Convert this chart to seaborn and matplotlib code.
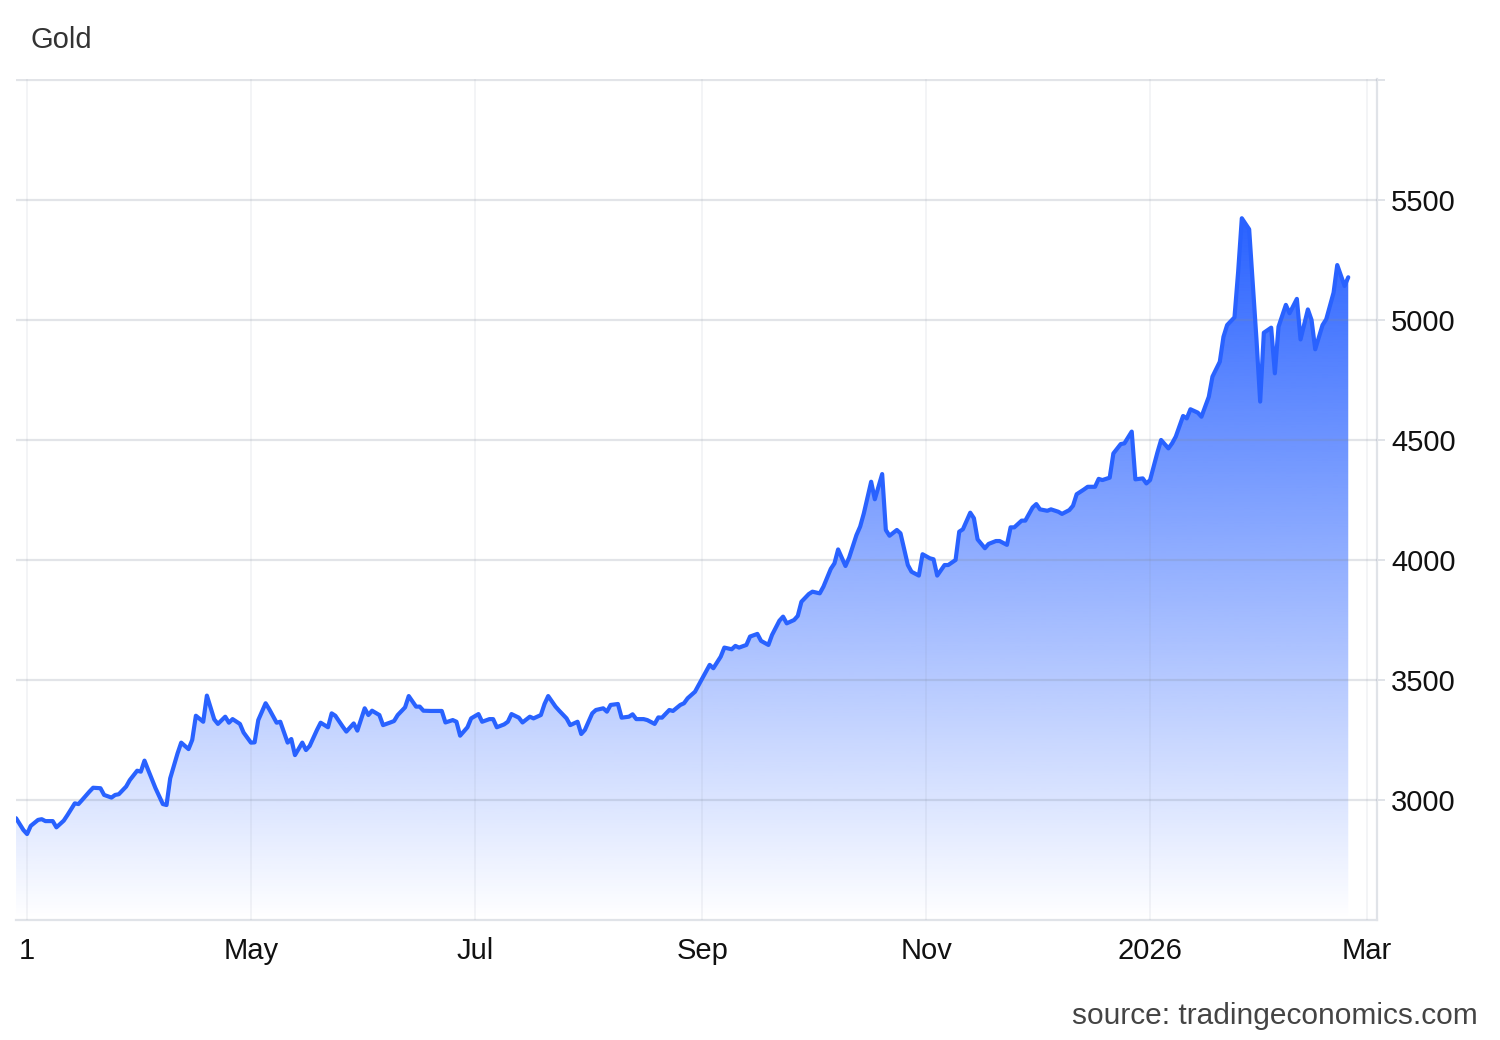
import numpy as np
import pandas as pd
import seaborn as sns
import matplotlib.pyplot as plt
import matplotlib.dates as mdates
from matplotlib.colors import to_rgb
from matplotlib.patches import Polygon

sns.set_theme(style='white')
plt.rcParams['font.family'] = ['Liberation Sans', 'DejaVu Sans']

# gold price
dates = [
    '2025-02-26', '2025-02-28', '2025-03-01', '2025-03-02', '2025-03-04',
    '2025-03-05', '2025-03-06', '2025-03-08', '2025-03-09', '2025-03-11',
    '2025-03-12', '2025-03-14', '2025-03-15', '2025-03-16', '2025-03-18',
    '2025-03-19', '2025-03-21', '2025-03-22', '2025-03-24', '2025-03-25',
    '2025-03-26', '2025-03-28', '2025-03-29', '2025-03-31', '2025-04-01',
    '2025-04-02', '2025-04-03', '2025-04-05', '2025-04-07', '2025-04-08',
    '2025-04-09', '2025-04-11', '2025-04-12', '2025-04-14', '2025-04-15',
    '2025-04-16', '2025-04-18', '2025-04-19', '2025-04-21', '2025-04-22',
    '2025-04-24', '2025-04-25', '2025-04-26', '2025-04-28', '2025-04-29',
    '2025-05-01', '2025-05-02', '2025-05-03', '2025-05-05', '2025-05-06',
    '2025-05-08', '2025-05-09', '2025-05-11', '2025-05-12', '2025-05-13',
    '2025-05-15', '2025-05-16', '2025-05-17', '2025-05-19', '2025-05-20',
    '2025-05-22', '2025-05-23', '2025-05-24', '2025-05-26', '2025-05-27',
    '2025-05-29', '2025-05-30', '2025-06-01', '2025-06-02', '2025-06-03',
    '2025-06-05', '2025-06-06', '2025-06-08', '2025-06-09', '2025-06-10',
    '2025-06-12', '2025-06-13', '2025-06-15', '2025-06-16', '2025-06-17',
    '2025-06-19', '2025-06-20', '2025-06-22', '2025-06-23', '2025-06-25',
    '2025-06-26', '2025-06-27', '2025-06-29', '2025-06-30', '2025-07-02',
    '2025-07-03', '2025-07-05', '2025-07-06', '2025-07-07', '2025-07-09',
    '2025-07-10', '2025-07-11', '2025-07-13', '2025-07-14', '2025-07-16',
    '2025-07-17', '2025-07-19', '2025-07-20', '2025-07-21', '2025-07-23',
    '2025-07-24', '2025-07-26', '2025-07-27', '2025-07-29', '2025-07-30',
    '2025-07-31', '2025-08-02', '2025-08-03', '2025-08-05', '2025-08-06',
    '2025-08-07', '2025-08-09', '2025-08-10', '2025-08-12', '2025-08-13',
    '2025-08-14', '2025-08-16', '2025-08-17', '2025-08-19', '2025-08-20',
    '2025-08-21', '2025-08-23', '2025-08-24', '2025-08-26', '2025-08-27',
    '2025-08-28', '2025-08-30', '2025-08-31', '2025-09-02', '2025-09-03',
    '2025-09-04', '2025-09-06', '2025-09-07', '2025-09-09', '2025-09-10',
    '2025-09-11', '2025-09-13', '2025-09-14', '2025-09-16', '2025-09-17',
    '2025-09-19', '2025-09-20', '2025-09-22', '2025-09-23', '2025-09-24',
    '2025-09-26', '2025-09-27', '2025-09-28', '2025-09-30', '2025-10-01',
    '2025-10-03', '2025-10-04', '2025-10-06', '2025-10-07', '2025-10-08',
    '2025-10-10', '2025-10-11', '2025-10-13', '2025-10-14', '2025-10-15',
    '2025-10-17', '2025-10-18', '2025-10-20', '2025-10-21', '2025-10-22',
    '2025-10-24', '2025-10-25', '2025-10-27', '2025-10-28', '2025-10-30',
    '2025-10-31', '2025-11-02', '2025-11-03', '2025-11-04', '2025-11-06',
    '2025-11-07', '2025-11-09', '2025-11-10', '2025-11-11', '2025-11-13',
    '2025-11-14', '2025-11-15', '2025-11-17', '2025-11-18', '2025-11-20',
    '2025-11-21', '2025-11-23', '2025-11-24', '2025-11-25', '2025-11-27',
    '2025-11-28', '2025-11-30', '2025-12-01', '2025-12-02', '2025-12-04',
    '2025-12-05', '2025-12-07', '2025-12-08', '2025-12-10', '2025-12-11',
    '2025-12-12', '2025-12-14', '2025-12-15', '2025-12-17', '2025-12-18',
    '2025-12-19', '2025-12-21', '2025-12-22', '2025-12-24', '2025-12-25',
    '2025-12-27', '2025-12-28', '2025-12-30', '2025-12-31', '2026-01-01',
    '2026-01-03', '2026-01-04', '2026-01-06', '2026-01-07', '2026-01-08',
    '2026-01-10', '2026-01-11', '2026-01-12', '2026-01-14', '2026-01-15',
    '2026-01-17', '2026-01-18', '2026-01-20', '2026-01-21', '2026-01-22',
    '2026-01-24', '2026-01-25', '2026-01-26', '2026-01-28', '2026-01-30',
    '2026-01-31', '2026-02-01', '2026-02-03', '2026-02-04', '2026-02-05',
    '2026-02-07', '2026-02-08', '2026-02-10', '2026-02-11', '2026-02-13',
    '2026-02-14', '2026-02-15', '2026-02-17', '2026-02-18', '2026-02-20',
    '2026-02-21', '2026-02-23', '2026-02-24',
]
prices = [
    2924, 2875, 2858, 2892, 2917, 2920, 2912, 2912, 2886, 2914,
    2937, 2986, 2983, 3000, 3035, 3051, 3049, 3021, 3010, 3021,
    3024, 3056, 3083, 3122, 3118, 3164, 3125, 3049, 2983, 2979,
    3090, 3194, 3239, 3212, 3250, 3351, 3326, 3435, 3336, 3317,
    3347, 3322, 3337, 3317, 3281, 3239, 3240, 3333, 3403, 3378,
    3322, 3326, 3239, 3254, 3187, 3239, 3208, 3225, 3292, 3322,
    3303, 3361, 3351, 3306, 3285, 3319, 3289, 3382, 3354, 3372,
    3354, 3312, 3323, 3329, 3354, 3386, 3433, 3389, 3389, 3372,
    3371, 3371, 3371, 3323, 3333, 3326, 3268, 3303, 3340, 3358,
    3326, 3337, 3337, 3303, 3315, 3326, 3358, 3343, 3323, 3347,
    3340, 3354, 3400, 3433, 3389, 3372, 3340, 3312, 3326, 3275,
    3292, 3361, 3375, 3382, 3368, 3396, 3400, 3343, 3347, 3357,
    3337, 3337, 3333, 3317, 3344, 3343, 3375, 3371, 3396, 3403,
    3424, 3451, 3479, 3535, 3563, 3549, 3597, 3635, 3628, 3642,
    3635, 3646, 3681, 3692, 3663, 3646, 3688, 3747, 3764, 3736,
    3750, 3767, 3826, 3858, 3868, 3861, 3889, 3963, 3986, 4044,
    3975, 4010, 4104, 4139, 4194, 4326, 4253, 4358, 4125, 4101,
    4125, 4111, 3979, 3951, 3935, 4024, 4007, 4003, 3935, 3979,
    3979, 4000, 4118, 4128, 4197, 4174, 4086, 4049, 4067, 4079,
    4079, 4063, 4136, 4136, 4164, 4164, 4219, 4233, 4211, 4205,
    4211, 4201, 4192, 4208, 4226, 4274, 4294, 4305, 4305, 4338,
    4333, 4343, 4444, 4483, 4486, 4535, 4336, 4340, 4319, 4333,
    4448, 4500, 4465, 4486, 4514, 4600, 4590, 4628, 4614, 4597,
    4680, 4764, 4826, 4930, 4979, 5011, 5201, 5424, 5378, 4917,
    4660, 4947, 4968, 4778, 4972, 5063, 5028, 5088, 4919, 5044,
    5000, 4878, 4979, 5003, 5114, 5229, 5142, 5178,
]

tick_dates = ['2025-03-01', '2025-05-01', '2025-07-01', '2025-09-01',
              '2025-11-01', '2026-01-01', '2026-03-01']
tick_labels = ['1', 'May', 'Jul', 'Sep', 'Nov', '2026', 'Mar']
y_ticks = [3000, 3500, 4000, 4500, 5000, 5500]
y_floor = 2500
y_top = 6000

line_color = '#2962ff'
grid_color = '#7d8799'
spine_color = '#e0e3e8'

df = pd.DataFrame({'Date': pd.to_datetime(dates), 'Price': prices})

fig = plt.figure(figsize=(15, 10.4), dpi=100)
ax = fig.add_axes([0.0107, 0.1154, 0.9073, 0.8086])

sns.lineplot(data=df, x='Date', y='Price', ax=ax, color=line_color,
             linewidth=3.0, zorder=4, solid_joinstyle='round',
             solid_capstyle='round')

# gradient area under the line, fading to white at the bottom
xnum = mdates.date2num(df['Date'])
verts = ([(xnum[0], y_floor)] + list(zip(xnum, df['Price'])) +
         [(xnum[-1], y_floor)])
poly = Polygon(verts, closed=True, facecolor='none', edgecolor='none')
ax.add_patch(poly)
grad = np.zeros((256, 1, 4))
grad[..., :3] = to_rgb(line_color)
grad[..., 3] = np.linspace(0, 1, 256).reshape(-1, 1)
im = ax.imshow(grad, extent=[xnum[0], xnum[-1], y_floor, df['Price'].max()],
               origin='lower', aspect='auto', zorder=1, interpolation='bilinear')
im.set_clip_path(poly)

ax.set_xlim(pd.Timestamp('2025-02-26'), pd.Timestamp('2026-03-03 20:00'))
ax.set_ylim(y_floor, y_top + 4)

ax.set_xticks(pd.to_datetime(tick_dates))
ax.set_xticklabels(tick_labels)
ax.set_yticks(y_ticks + [y_top])
ax.set_yticklabels([str(v) for v in y_ticks] + [''])
ax.yaxis.tick_right()

# grid drawn above the fill, semi-transparent so it darkens slightly on blue
ax.set_axisbelow(False)
ax.yaxis.grid(True, color=grid_color, linewidth=1.6, alpha=0.22)
ax.xaxis.grid(True, color=grid_color, linewidth=1.4, alpha=0.09)

ax.tick_params(axis='y', length=6, width=1.4, color=spine_color, pad=4,
               labelsize=21, labelcolor='#111111')
ax.tick_params(axis='x', length=0, pad=12, labelsize=21,
               labelcolor='#111111')

for side in ['left', 'top']:
    ax.spines[side].set_visible(False)
for side in ['bottom', 'right']:
    ax.spines[side].set_color(spine_color)
    ax.spines[side].set_linewidth(1.6)

ax.set_xlabel('')
ax.set_ylabel('')

fig.text(30 / 1500, 1 - 40 / 1040, 'Gold', ha='left', va='center',
         fontsize=21, color='#333333')
fig.text(1478 / 1500, 1 - 1016 / 1040, 'source: tradingeconomics.com',
         ha='right', va='center', fontsize=21.5, color='#444444')

fig.savefig('out.png', dpi=100)
